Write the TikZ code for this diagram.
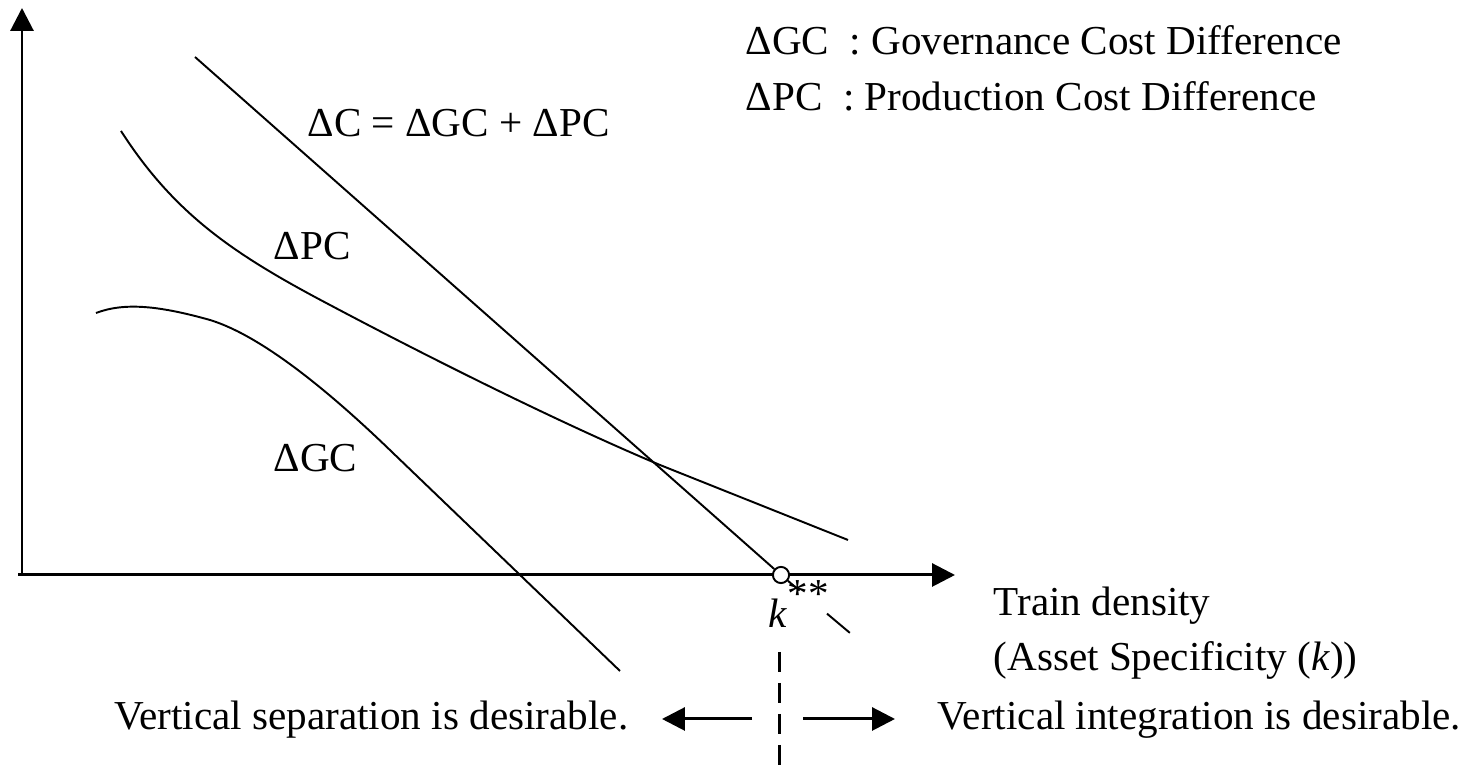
\documentclass[tikz,border=0pt]{standalone}
\usepackage{fontspec}
\setmainfont{Liberation Serif}
\usetikzlibrary{arrows.meta, positioning}
\tikzset{>={Triangle[length=6.5pt, width=6.5pt]},
         x=0.01cm, y=-0.01cm,
         axis/.style={line width=0.85pt},
         curve/.style={line width=0.55pt},
         lbl/.style={inner sep=0pt, font=\fontsize{11.7}{13}\selectfont},
         }

\begin{document}
\begin{tikzpicture}
    \useasboundingbox (0,0) rectangle (1472,774);
    % axes
    \coordinate (o) at (22,575);
    \coordinate (ytop) at (22,8);
    \coordinate (xleft) at (18,575);
    \coordinate (xend) at (955,575);
    \draw[axis, ->] (o) -- (ytop);
    \draw[axis, ->] (xleft) -- (xend);

    % curves
    \draw[curve] (96,313) .. controls (125,302) and (160,306) .. (210,320)
                 .. controls (262,336) and (330,392) .. (393,453)
                 -- (620,671);
    \draw[curve] (121,131) .. controls (175,215) and (235,255) .. (330,305)
                 .. controls (430,358) and (560,423) .. (660,465)
                 -- (848,540);

    % total cost line and k**
    \node[circle, draw, fill=white, line width=0.55pt, inner sep=0pt, minimum size=4.6pt] (kss) at (781,575) {};
    \coordinate (dcstart) at (195,57);
    \coordinate (dcend) at (850,633);
    \draw[curve] (dcstart) -- (kss);
    \draw[curve, dash pattern=on 4.3pt off 10.2pt on 8.5pt off 30pt] (kss) -- (dcend);
    \node[lbl, anchor=base west] (klbl) at (768,628) {\textit{k}\raisebox{1.1ex}{**}};

    % labels
    \node[lbl, anchor=base west] (dclbl) at (307,137) {ΔC = ΔGC + ΔPC};
    \node[lbl, anchor=base west] (pclbl) at (273,260) {ΔPC};
    \node[lbl, anchor=base west] (gclbl) at (273,472) {ΔGC};
    \node[lbl, anchor=base west] (leggc) at (745,55) {ΔGC\ \ : Governance Cost Difference};
    \node[lbl, anchor=base west] (legpc) at (745,111) {ΔPC\ \ : Production Cost Difference};
    \node[lbl, anchor=base west] (xlbl1) at (993,616) {Train density};
    \node[lbl, anchor=base west] (xlbl2) at (993,671) {(Asset Specificity (\textit{k}))};

    % regions
    \coordinate (vtop) at (779,652);
    \coordinate (vbot) at (779,774);
    \draw[axis, dash pattern=on 5.7pt off 3.1pt] (vtop) -- (vbot);
    \node[lbl, anchor=base east] (sep) at (629,730) {Vertical separation is desirable.};
    \node[lbl, anchor=base west] (integ) at (937,730) {Vertical integration is desirable.};
    \coordinate (la) at (752,719);
    \coordinate (lt) at (662,719);
    \coordinate (ra) at (803,719);
    \coordinate (rt) at (895,719);
    \draw[axis, ->] (la) -- (lt);
    \draw[axis, ->] (ra) -- (rt);
\end{tikzpicture}
\end{document}
